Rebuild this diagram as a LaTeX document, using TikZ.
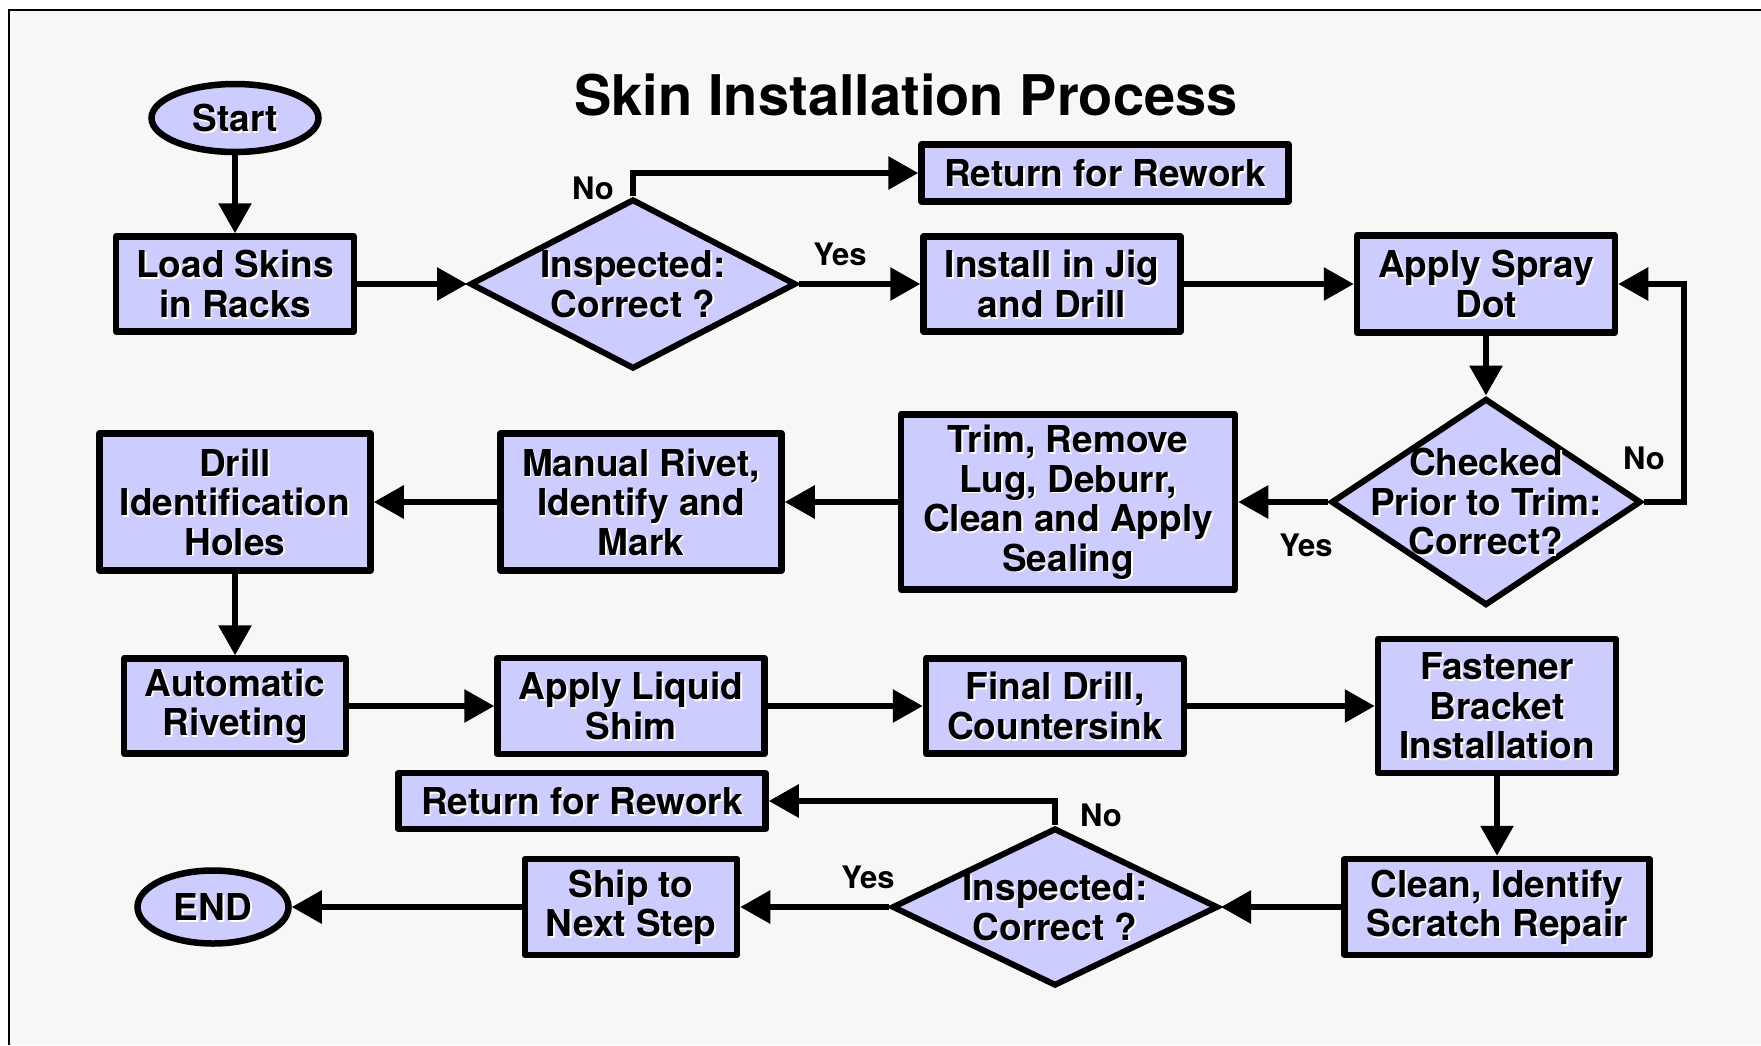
\documentclass[tikz,border=0pt]{standalone}
\usepackage{fontspec}
\setmainfont{TeX Gyre Heros}
\usetikzlibrary{shapes.geometric,arrows.meta,calc}
\definecolor{boxfill}{HTML}{CCCCFF}
\definecolor{paper}{HTML}{F7F7F7}

\tikzset{
  proc/.style={rectangle, draw, line width=6.5pt, fill=boxfill, inner sep=0pt, line join=round},
  term/.style={ellipse, draw, line width=6.5pt, fill=boxfill, inner sep=0pt},
  decide/.style={diamond, draw, line width=6pt, fill=boxfill, inner sep=0pt},
  bodytext/.style={font=\fontsize{37}{39.5}\selectfont\bfseries, align=center, inner sep=0pt},
  shadetext/.style={bodytext, text=white},
  answer/.style={font=\fontsize{31}{33}\selectfont\bfseries, inner sep=0pt},
  conn/.style={line width=6pt, -{Triangle[length=30pt,width=32pt]}},
}

% shape node, then a white drop shadow of its text, then the text itself
\newcommand\flownode[6]{%
  \node[#1, minimum width=#4, minimum height=#5] (#2) at (#3) {};
  \node[shadetext] (#2-shade) at ($(#2)+(1.8,1.8)$) {#6};
  \node[bodytext] (#2-text) at (#2) {#6};
}

\begin{document}
\begin{tikzpicture}[x=1pt,y=-1pt]
  \useasboundingbox (0,0) rectangle (1761,1045);
  \fill[white] (0,0) rectangle (1761,1045);
  \fill[paper] (9,10) rectangle (1761,1045);
  \draw[line width=1.5pt] (9,1045) -- (9,10) -- (1761,10);

  % title
  \node[font=\fontsize{56}{60}\selectfont\bfseries, text=white, inner sep=0pt] (title-shade) at (907.8,96.8) {Skin Installation Process};
  \node[font=\fontsize{56}{60}\selectfont\bfseries, inner sep=0pt] (title) at (906,95) {Skin Installation Process};

  % row 1
  \flownode{term}{start}{235,118}{167pt}{68pt}{Start}
  \flownode{proc}{load}{235,284}{238pt}{95pt}{Load Skins\\in Racks}
  \flownode{decide}{dA}{633,284}{326pt}{170pt}{Inspected:\\Correct ?}
  \flownode{proc}{retA}{1105,173}{367pt}{57pt}{Return for Rework}
  \flownode{proc}{jig}{1052,284}{257pt}{95pt}{Install in Jig\\and Drill}
  \flownode{proc}{spray}{1486,284}{258pt}{97pt}{Apply Spray\\Dot}

  % row 2
  \flownode{decide}{dB}{1486,502}{310pt}{207pt}{Checked\\Prior to Trim:\\Correct?}
  \flownode{proc}{trim}{1068,502}{334pt}{175pt}{Trim, Remove\\Lug, Deburr,\\Clean and Apply\\Sealing}
  \flownode{proc}{manual}{641,502}{281pt}{137pt}{Manual Rivet,\\Identify and\\Mark}
  \flownode{proc}{drill}{235,502}{271pt}{137pt}{Drill\\Identification\\Holes}

  % row 3
  \flownode{proc}{auto}{235,706}{222pt}{95pt}{Automatic\\Riveting}
  \flownode{proc}{shim}{631,706}{267pt}{96pt}{Apply Liquid\\Shim}
  \flownode{proc}{final}{1055,706}{258pt}{95pt}{Final Drill,\\Countersink}
  \flownode{proc}{fast}{1497,706}{238pt}{134pt}{Fastener\\Bracket\\Installation}

  % row 4
  \flownode{proc}{clean}{1497,907}{305pt}{96pt}{Clean, Identify\\Scratch Repair}
  \flownode{decide}{dC}{1055,907}{326pt}{158pt}{Inspected:\\Correct ?}
  \flownode{proc}{retB}{582,801}{367pt}{56pt}{Return for Rework}
  \flownode{proc}{ship}{631,907}{212pt}{96pt}{Ship to\\Next Step}
  \flownode{term}{end}{213,907}{151pt}{73pt}{END}

  % connectors
  \draw[conn] (start) -- (load);
  \draw[conn] (load.east) -- (dA.west);
  \draw[conn] (dA.north) |- (retA.west);
  \draw[conn] (dA.east) -- (jig.west);
  \draw[conn] (jig.east) -- (spray.west);
  \draw[conn] (spray.south) -- (dB.north);
  \draw[conn] (dB.east) -- ++(40,0) |- (spray.east);
  \draw[conn] (dB.west) -- (trim.east);
  \draw[conn] (trim.west) -- (manual.east);
  \draw[conn] (manual.west) -- (drill.east);
  \draw[conn] (drill.south) -- (auto.north);
  \draw[conn] (auto.east) -- (shim.west);
  \draw[conn] (shim.east) -- (final.west);
  \draw[conn] (final.east) -- (fast.west);
  \draw[conn] (fast.south) -- (clean.north);
  \draw[conn] (clean.west) -- (dC.east);
  \draw[conn] (dC.north) |- (retB.east);
  \draw[conn] (dC.west) -- (ship.east);
  \draw[conn] (ship.west) -- (end.east);

  % decision answers
  \node[answer] (noA) at (593,188) {No};
  \node[answer] (yesA) at (840,254) {Yes};
  \node[answer] (noB) at (1644,458) {No};
  \node[answer] (yesB) at (1306,545) {Yes};
  \node[answer] (noC) at (1101,815) {No};
  \node[answer] (yesC) at (868,877) {Yes};
\end{tikzpicture}
\end{document}
